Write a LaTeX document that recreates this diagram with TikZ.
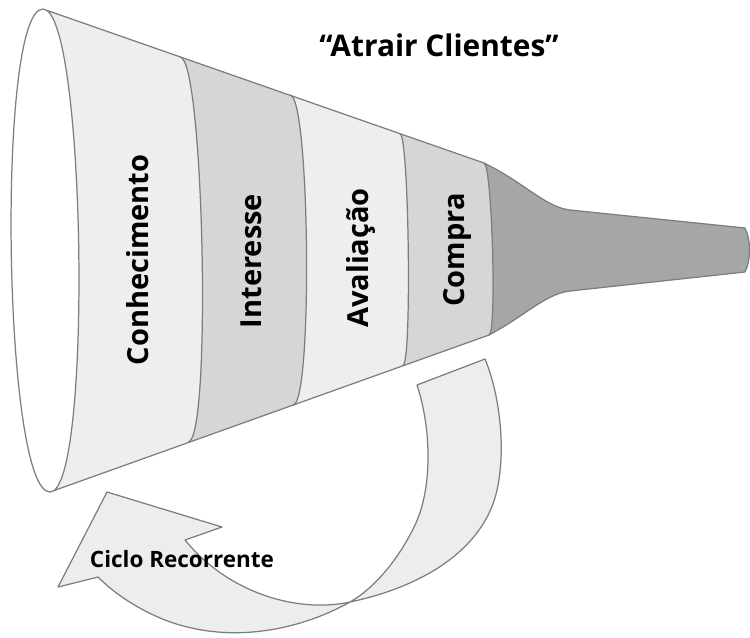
\documentclass[tikz,border=0pt]{standalone}
\usepackage{fontspec}
\setmainfont{Open Sans}
\usetikzlibrary{calc}
\definecolor{lineGray}{RGB}{125,125,125}
\definecolor{bandLight}{RGB}{237,238,238}
\definecolor{bandMid}{RGB}{213,214,214}
\definecolor{bandDark}{RGB}{164,166,167}
\definecolor{ribbonFill}{RGB}{236,237,237}

\begin{document}
\begin{tikzpicture}[
  x=0.02cm, y=-0.02cm,
  edge/.style={draw=lineGray, line width=0.7pt, line join=round},
  ribbon/.style={edge, fill=ribbonFill},
  stage/.style={font=\fontsize{16.5}{18}\selectfont\bfseries, rotate=90, inner sep=0pt},
  caption/.style={font=\fontsize{17}{19}\selectfont\bfseries, inner sep=0pt},
  loopText/.style={font=\fontsize{12.8}{14}\selectfont\bfseries, inner sep=0pt}
]
\fill[white] (0,0) rectangle (750,637);
\useasboundingbox (0,0) rectangle (750,637);

% Funnel rim and band edges
\coordinate (T0) at (43,9);    \coordinate (B0) at (50,492);
\coordinate (T1) at (180,57);  \coordinate (B1) at (188,442);
\coordinate (T2) at (290,95);  \coordinate (B2) at (293,405);
\coordinate (T3) at (400,134); \coordinate (B3) at (403,365);
\coordinate (T4) at (484,163); \coordinate (B4) at (489,335);

% Body
\begin{scope}
  \clip (T0) -- (T4) .. controls (525,183) and (545,207) .. (570,210) -- (745,228)
    .. controls (751,240) and (751,260) .. (745,272) -- (570,291)
    .. controls (545,294) and (525,316) .. (B4) -- (B0)
    .. controls +(43,0) and +(43,0) .. (T0) -- cycle;
  \fill[bandLight] (0,0) rectangle (750,637);
  \foreach \k/\col/\c in {1/bandMid/24, 2/bandLight/20, 3/bandMid/9, 4/bandDark/8}
    \fill[\col] (T\k) .. controls +(\c,0) and +(\c,0) .. (B\k) -- ++(0,100)
      -- (800,700) -- (800,-100) -- ($(T\k)+(0,-100)$) -- cycle;
\end{scope}

\draw[edge] (T0) -- (T4) .. controls (525,183) and (545,207) .. (570,210) -- (745,228)
  .. controls (751,240) and (751,260) .. (745,272) -- (570,291)
  .. controls (545,294) and (525,316) .. (B4) -- (B0)
  .. controls +(43,0) and +(43,0) .. (T0) -- cycle;
\foreach \k/\c in {1/24, 2/20, 3/9, 4/8}
  \draw[edge] (T\k) .. controls +(\c,0) and +(\c,0) .. (B\k);
\draw[edge] (T0) .. controls +(-47,0) and +(-47,0) .. (B0);

% Stages
\node[caption] (title) at (439,45) {“Atrair Clientes”};
\node[stage] (conh) at (138,260) {Conhecimento};
\node[stage] (inter) at (251,261) {Interesse};
\node[stage] (aval) at (361,258) {Avaliação};
\node[stage] (compra) at (457,250) {Compra};

% Loop arrow
\coordinate (twist) at (350,602);
\filldraw[ribbon] (417,385) -- (485,359) .. controls (500,395) and (506,450) .. (497,490)
  .. controls (485,545) and (430,585) .. (twist)
  .. controls (375,588) and (400,557) .. (415,525)
  .. controls (432,490) and (432,430) .. (417,385) -- cycle;
\filldraw[ribbon] (twist) .. controls (300,613) and (230,595) .. (185,540)
  -- (222,527) -- (107,492) -- (58,587) -- (98,577)
  .. controls (113,592) and (135,608) .. (165,620)
  .. controls (230,645) and (300,630) .. (twist) -- cycle;
\node[loopText] (ciclo) at (182,559) {Ciclo Recorrente};

\end{tikzpicture}
\end{document}
